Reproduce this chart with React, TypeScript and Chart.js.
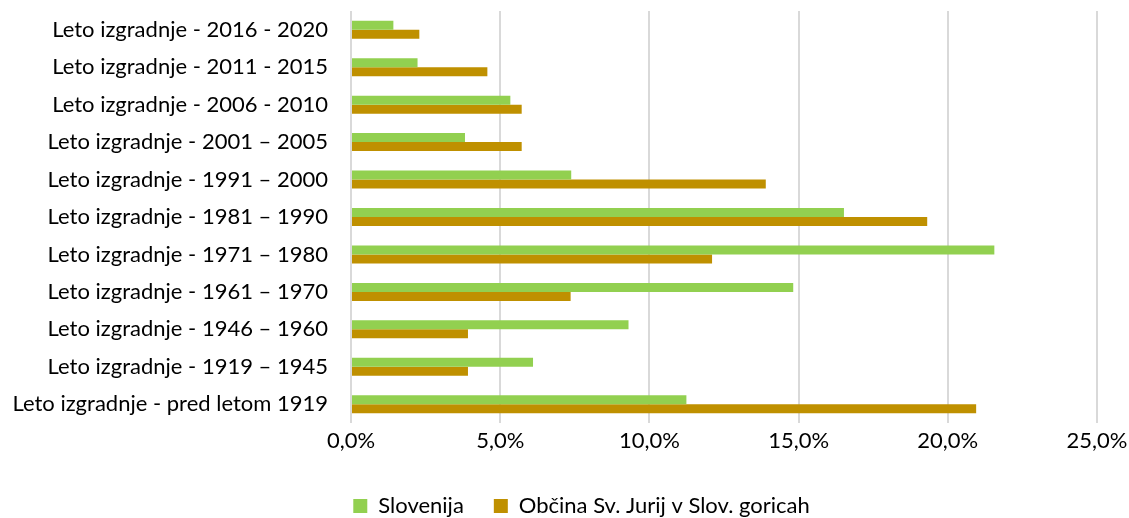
import React, { useEffect, useRef } from "react";
import { Chart, registerables } from "chart.js";

Chart.register(...registerables);

const categories = [
  "Leto izgradnje - 2016 - 2020",
  "Leto izgradnje - 2011 - 2015",
  "Leto izgradnje - 2006 - 2010",
  "Leto izgradnje - 2001 – 2005",
  "Leto izgradnje - 1991 – 2000",
  "Leto izgradnje - 1981 – 1990",
  "Leto izgradnje - 1971 – 1980",
  "Leto izgradnje - 1961 – 1970",
  "Leto izgradnje - 1946 – 1960",
  "Leto izgradnje - 1919 – 1945",
  "Leto izgradnje - pred letom 1919",
];

const slovenija = [1.42, 2.23, 5.34, 3.82, 7.38, 16.52, 21.56, 14.82, 9.3, 6.1, 11.24];
const obcina = [2.29, 4.57, 5.72, 5.72, 13.9, 19.31, 12.1, 7.36, 3.92, 3.92, 20.95];

const seriesNames = ["Slovenija", "Občina Sv. Jurij v Slov. goricah"];
const xMin = 0;
const xMax = 25;
const xStep = 5;

const FONT = "Lato";
const FS = 22;

const legendShift = {
  id: "legendShift",
  afterLayout(chart: any) {
    if (chart.legend) {
      chart.legend.left += 33;
      chart.legend.right += 33;
    }
  },
};

export default function App() {
  const ref = useRef<HTMLCanvasElement | null>(null);
  useEffect(() => {
    if (!ref.current) return;
    const chart = new Chart(ref.current, {
      type: "bar",
      data: {
        labels: categories,
        datasets: [
          {
            label: seriesNames[0],
            data: slovenija,
            backgroundColor: "#92D050",
            categoryPercentage: 0.48,
            barPercentage: 1,
          },
          {
            label: seriesNames[1],
            data: obcina,
            backgroundColor: "#BF9000",
            categoryPercentage: 0.48,
            barPercentage: 1,
          },
        ],
      },
      plugins: [legendShift],
      options: {
        indexAxis: "y",
        responsive: false,
        animation: false,
        layout: { padding: { top: 11, right: 32, left: 0, bottom: 0 } },
        scales: {
          x: {
            min: xMin,
            max: xMax,
            ticks: {
              stepSize: xStep,
              color: "#000",
              font: { family: FONT, size: FS, lineHeight: 1 },
              padding: 0,
              callback: (v: any) => Number(v).toFixed(1).replace(".", ",") + "%",
            },
            grid: {
              color: "#d9d9d9",
              lineWidth: 2,
              drawTicks: true,
              tickLength: 7,
              tickColor: "rgba(0,0,0,0)",
            },
            border: { display: false },
            afterFit: (s: any) => {
              s.height = 42;
            },
          },
          y: {
            ticks: {
              color: "#000",
              font: { family: FONT, size: FS, lineHeight: 1 },
              padding: 0,
              autoSkip: false,
            },
            grid: { display: false, drawTicks: true, tickLength: 23, tickColor: "rgba(0,0,0,0)" },
            border: { display: false },
            afterFit: (s: any) => {
              s.width = 351;
            },
          },
        },
        plugins: {
          legend: {
            position: "bottom",
            maxHeight: 53,
            labels: {
              color: "#000",
              font: { family: FONT, size: FS },
              boxWidth: 14,
              boxHeight: 14,
              padding: 30,
            },
          },
          tooltip: { enabled: false },
        },
      },
    });
    return () => chart.destroy();
  }, []);
  return (
    <div style={{ position: "fixed", left: 0, top: 0, width: 1129, height: 518, background: "#fff" }}>
      <canvas ref={ref} width={1129} height={518} />
    </div>
  );
}
